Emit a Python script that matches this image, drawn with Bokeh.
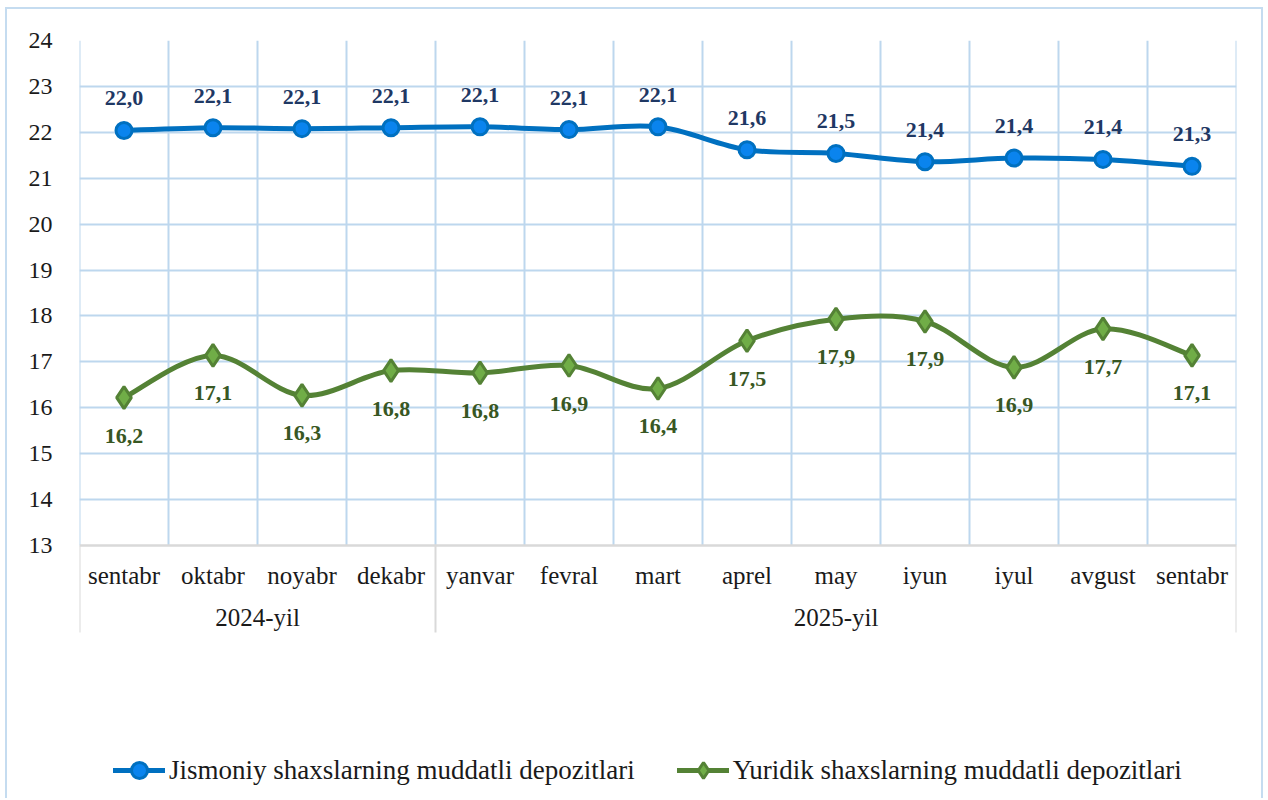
from bokeh.plotting import figure
from bokeh.models import (FixedTicker, Range1d, Legend, LegendItem, ColumnDataSource)
from bokeh.core.properties import value
from bokeh.embed import file_html
from bokeh.resources import INLINE

# ---- data ----
months = ["sentabr", "oktabr", "noyabr", "dekabr", "yanvar", "fevral", "mart",
          "aprel", "may", "iyun", "iyul", "avgust", "sentabr"]
groups = ["2024-yil", "2025-yil"]
group_sizes = [4, 9]
jismoniy = [22.04, 22.10, 22.08, 22.10, 22.12, 22.06, 22.12,
            21.62, 21.54, 21.36, 21.44, 21.41, 21.26]
yuridik = [16.22, 17.14, 16.27, 16.81, 16.76, 16.92, 16.42,
           17.46, 17.93, 17.88, 16.88, 17.72, 17.14]
series_names = ["Jismoniy shaxslarning muddatli depozitlari",
                "Yuridik shaxslarning muddatli depozitlari"]
y_ticks = list(range(13, 25))

# ---- layout constants (page px) ----
MARGIN_L, MARGIN_T, BORDER = 5, 7, 2
W, H = 1258, 791
CANVAS_LEFT = MARGIN_L + BORDER
CANVAS_TOP = MARGIN_T + BORDER
FRAME_L, FRAME_R, FRAME_T = 79, 1236, 40
Y13_PX = 545
FRAME_B = CANVAS_TOP + H
ppu = (Y13_PX - FRAME_T) / (y_ticks[-1] - y_ticks[0])
y_start = y_ticks[0] - (FRAME_B - Y13_PX) / ppu

FONT = "Liberation Serif"
GRID = "#BDD7EE"
AXIS = "#D9D9D9"
TXT = "#1a1a1a"
BLUE_LINE, BLUE_FILL, BLUE_TXT = "#0070C0", "#0A84EE", "#1F3864"
GREEN_LINE, GREEN_FILL, GREEN_TXT = "#548235", "#70AD47", "#385723"

n = len(months)
xs = list(range(n))

p = figure(width=W, height=H, output_backend="svg", toolbar_location=None,
           x_range=Range1d(-0.5, n - 0.5), y_range=Range1d(y_start, y_ticks[-1]),
           x_axis_location=None,
           min_border_left=FRAME_L - CANVAS_LEFT, min_border_right=CANVAS_LEFT + W - FRAME_R,
           min_border_top=FRAME_T - CANVAS_TOP, min_border_bottom=0)
p.styles = {"margin-left": f"{MARGIN_L}px", "margin-top": f"{MARGIN_T}px",
            "border-left": f"{BORDER}px solid #C5DCF0",
            "border-right": f"{BORDER}px solid #C5DCF0",
            "border-top": f"{BORDER}px solid #C5DCF0"}
p.outline_line_color = None
p.background_fill_color = "white"
p.border_fill_color = "white"

# y axis
ya = p.yaxis[0]
ya.ticker = FixedTicker(ticks=y_ticks)
ya.axis_line_color = None
ya.major_tick_line_color = None
ya.minor_tick_line_color = None
ya.major_label_standoff = 21
ya.major_label_text_font = FONT
ya.major_label_text_font_size = "24px"
ya.major_label_text_color = TXT

# horizontal grid
p.xgrid.visible = False
p.ygrid.ticker = FixedTicker(ticks=y_ticks[1:])
p.ygrid.grid_line_color = GRID
p.ygrid.grid_line_width = 2

# vertical grid lines between categories
bounds = [i - 0.5 for i in range(n + 1)]
p.segment(x0=bounds, y0=[y_ticks[0]] * len(bounds), x1=bounds, y1=[y_ticks[-1]] * len(bounds),
          line_color=GRID, line_width=2)

# category axis line
p.segment(x0=[-0.5], y0=[y_ticks[0]], x1=[n - 0.5], y1=[y_ticks[0]], line_color=AXIS, line_width=2.5)

# group separators
sep = [-0.5]
acc = -0.5
for s in group_sizes:
    acc += s
    sep.append(acc)
sep_len = 87 / ppu
p.segment(x0=sep, y0=[y_ticks[0]] * len(sep), x1=sep, y1=[y_ticks[0] - sep_len] * len(sep),
          line_color=AXIS, line_width=2)

# month + group labels
p.text(x=xs, y=[y_ticks[0]] * n, text=months, y_offset=30,
       text_align="center", text_baseline="middle",
       text_font=value(FONT), text_font_size="25px", text_color=TXT)
gx = []
start = 0
for s in group_sizes:
    gx.append(start + (s - 1) / 2)
    start += s
p.text(x=gx, y=[y_ticks[0]] * len(gx), text=groups, y_offset=72,
       text_align="center", text_baseline="middle",
       text_font=value(FONT), text_font_size="25px", text_color=TXT)


def bezier_parts(x, y):
    m = len(x)
    out = dict(x0=[], y0=[], x1=[], y1=[], cx0=[], cy0=[], cx1=[], cy1=[])
    for i in range(m - 1):
        a = i - 1 if i > 0 else i
        d = i + 2 if i + 2 < m else i + 1
        out["x0"].append(x[i]); out["y0"].append(y[i])
        out["x1"].append(x[i + 1]); out["y1"].append(y[i + 1])
        out["cx0"].append(x[i] + (x[i + 1] - x[a]) / 6)
        out["cy0"].append(y[i] + (y[i + 1] - y[a]) / 6)
        out["cx1"].append(x[i + 1] - (x[d] - x[i]) / 6)
        out["cy1"].append(y[i + 1] - (y[d] - y[i]) / 6)
    return out


def fmt(v):
    return f"{v:.1f}".replace(".", ",")


items = []
specs = [
    (jismoniy, BLUE_LINE, BLUE_FILL, BLUE_TXT, "circle", 16, -32),
    (yuridik, GREEN_LINE, GREEN_FILL, GREEN_TXT, "diamond", 22, 38),
]
for (vals, lc, fc, tc, marker, size, yoff), name in zip(specs, series_names):
    b = p.bezier(source=ColumnDataSource(bezier_parts(xs, vals)), x0="x0", y0="y0", x1="x1", y1="y1",
                 cx0="cx0", cy0="cy0", cx1="cx1", cy1="cy1",
                 line_color=lc, line_width=5, line_cap="round")
    sc = p.scatter(x=xs, y=vals, marker=marker, size=size, fill_color=fc,
                   line_color=lc, line_width=3)
    p.text(x=xs, y=vals, text=[fmt(v) for v in vals], y_offset=yoff,
           text_align="center", text_baseline="middle",
           text_font=value(FONT), text_font_style="bold", text_font_size="22px", text_color=tc)
    items.append(LegendItem(label=name, renderers=[b, sc]))

legend = Legend(items=items, orientation="horizontal", location=(113 - FRAME_L, FRAME_B - 790),
                glyph_width=52, glyph_height=40, label_height=40, label_standoff=4,
                spacing=42, padding=0, margin=0,
                label_text_font=FONT, label_text_font_size="27px", label_text_color=TXT,
                border_line_color=None, background_fill_alpha=0)
p.add_layout(legend)

open("out.html", "w").write(file_html(p, INLINE))
